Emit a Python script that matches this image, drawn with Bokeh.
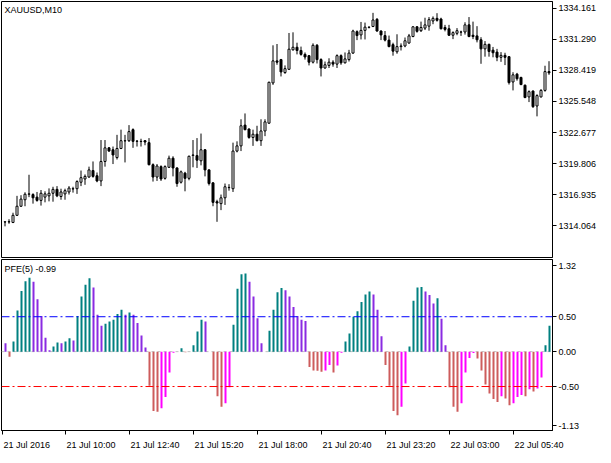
from bokeh.plotting import figure
from bokeh.models import Range1d, FixedTicker, PrintfTickFormatter, Span, Label, ColumnDataSource
from bokeh.transform import dodge
from bokeh.layouts import column
from bokeh.embed import file_html
from bokeh.resources import INLINE

# ---- candles (XAUUSD, M10) ----
opens = [1314.40, 1314.41, 1314.36, 1315.02, 1315.86, 1316.46, 1316.97, 1316.94, 1316.70, 1316.40,
         1316.70, 1316.82, 1317.06, 1317.42, 1316.76, 1317.00, 1317.18, 1317.46, 1317.48, 1318.08,
         1318.38, 1318.56, 1319.16, 1318.68, 1318.20, 1320.00, 1321.26, 1321.08, 1320.36, 1321.20,
         1321.90, 1321.92, 1322.94, 1321.88, 1321.84, 1321.92, 1321.74, 1319.70, 1318.56, 1319.52,
         1318.44, 1319.46, 1320.30, 1319.40, 1318.08, 1318.92, 1318.44, 1320.56, 1320.54, 1320.06,
         1321.08, 1319.22, 1318.02, 1316.28, 1316.10, 1316.64, 1317.58, 1317.48, 1320.96, 1321.44,
         1323.36, 1323.00, 1322.22, 1322.52, 1321.92, 1322.82, 1323.54, 1327.26, 1329.30, 1329.42,
         1328.22, 1328.52, 1330.32, 1330.56, 1330.26, 1329.90, 1329.78, 1329.18, 1330.74, 1329.42,
         1328.64, 1328.88, 1329.18, 1329.00, 1329.78, 1329.12, 1329.42, 1330.02, 1332.00, 1331.70,
         1332.12, 1332.40, 1332.48, 1333.14, 1332.06, 1331.64, 1331.22, 1330.80, 1330.14, 1330.62,
         1330.68, 1330.95, 1331.55, 1332.45, 1332.09, 1332.33, 1332.51, 1332.99, 1333.23, 1333.17,
         1332.39, 1332.27, 1331.67, 1331.85, 1331.96, 1331.97, 1332.63, 1331.67, 1331.61, 1331.25,
         1330.41, 1330.83, 1330.29, 1330.11, 1329.63, 1329.81, 1329.69, 1327.35, 1328.07, 1327.77,
         1327.05, 1325.97, 1326.51, 1325.13, 1325.97, 1326.57, 1328.31]
highs = [1314.43, 1314.66, 1315.26, 1316.82, 1316.88, 1317.15, 1318.77, 1317.06, 1317.18, 1317.36,
         1317.24, 1317.51, 1317.66, 1317.72, 1317.48, 1317.48, 1317.72, 1317.66, 1318.26, 1319.16,
         1318.80, 1319.52, 1320.00, 1318.98, 1321.98, 1321.98, 1321.32, 1321.38, 1322.46, 1322.94,
         1322.46, 1323.36, 1323.06, 1321.98, 1322.10, 1321.98, 1322.16, 1319.82, 1319.76, 1319.64,
         1319.64, 1320.54, 1320.48, 1319.46, 1319.16, 1319.04, 1320.54, 1321.98, 1322.16, 1322.58,
         1321.14, 1319.28, 1318.08, 1316.46, 1316.94, 1317.96, 1317.90, 1321.74, 1321.86, 1323.90,
         1324.44, 1323.06, 1322.94, 1323.30, 1323.90, 1323.90, 1327.38, 1330.74, 1330.86, 1329.48,
         1328.88, 1331.88, 1331.94, 1330.98, 1330.62, 1330.08, 1329.84, 1330.92, 1330.86, 1329.54,
         1329.24, 1329.54, 1329.36, 1329.90, 1329.90, 1330.08, 1330.32, 1332.18, 1332.12, 1332.90,
         1332.84, 1332.48, 1333.74, 1333.26, 1332.12, 1332.06, 1331.64, 1330.98, 1331.76, 1330.92,
         1331.46, 1331.79, 1332.51, 1332.51, 1332.93, 1333.29, 1333.35, 1333.41, 1333.71, 1333.29,
         1332.63, 1332.63, 1332.03, 1332.33, 1332.09, 1332.87, 1333.35, 1332.93, 1332.51, 1331.49,
         1331.13, 1330.89, 1330.59, 1330.41, 1330.11, 1330.05, 1329.75, 1328.25, 1328.19, 1327.83,
         1327.11, 1326.57, 1326.57, 1326.21, 1326.69, 1328.85, 1329.27]
lows = [1314.00, 1314.24, 1314.30, 1314.96, 1315.80, 1315.86, 1316.70, 1316.10, 1316.28, 1315.92,
        1316.22, 1316.31, 1316.28, 1316.70, 1316.46, 1316.46, 1316.94, 1317.12, 1317.00, 1317.72,
        1317.84, 1318.50, 1318.50, 1318.08, 1317.72, 1319.52, 1320.90, 1319.76, 1320.18, 1321.14,
        1319.91, 1321.80, 1321.26, 1321.38, 1321.38, 1321.50, 1319.64, 1318.14, 1318.20, 1318.20,
        1318.32, 1319.40, 1318.62, 1317.66, 1317.96, 1317.24, 1318.26, 1319.46, 1319.40, 1319.64,
        1318.62, 1317.78, 1315.86, 1314.42, 1315.50, 1315.98, 1317.30, 1317.18, 1320.84, 1320.96,
        1322.88, 1322.10, 1321.44, 1321.86, 1321.44, 1322.34, 1323.48, 1327.08, 1328.94, 1327.86,
        1328.10, 1328.46, 1330.26, 1329.90, 1329.78, 1329.42, 1328.88, 1329.06, 1329.06, 1327.86,
        1328.58, 1328.64, 1328.76, 1328.64, 1328.94, 1329.06, 1329.24, 1329.96, 1331.22, 1331.28,
        1331.28, 1332.30, 1332.42, 1332.00, 1331.22, 1331.10, 1330.56, 1329.78, 1329.96, 1330.26,
        1330.56, 1330.89, 1331.49, 1331.91, 1331.97, 1332.15, 1332.09, 1332.69, 1332.93, 1332.21,
        1332.03, 1331.61, 1331.31, 1331.67, 1331.61, 1331.73, 1331.49, 1331.31, 1331.01, 1329.03,
        1329.69, 1329.69, 1329.63, 1329.27, 1329.21, 1328.91, 1327.11, 1326.57, 1327.47, 1327.05,
        1325.85, 1325.49, 1324.95, 1324.17, 1325.91, 1326.45, 1328.01]
closes = [1314.42, 1314.43, 1315.02, 1315.86, 1316.52, 1316.97, 1317.00, 1316.64, 1316.40, 1317.06,
          1317.00, 1317.06, 1317.42, 1316.82, 1317.18, 1317.30, 1317.54, 1317.48, 1318.14, 1318.50,
          1318.62, 1319.22, 1318.62, 1318.20, 1320.00, 1321.26, 1320.96, 1320.60, 1321.20, 1321.92,
          1321.92, 1322.76, 1321.86, 1321.86, 1321.86, 1321.80, 1319.70, 1318.56, 1319.58, 1318.38,
          1319.52, 1320.30, 1319.40, 1317.96, 1319.04, 1318.44, 1320.48, 1320.60, 1320.12, 1321.08,
          1319.22, 1317.96, 1316.22, 1316.16, 1316.64, 1317.66, 1317.60, 1320.96, 1321.44, 1323.30,
          1322.94, 1322.22, 1322.52, 1321.92, 1322.82, 1323.66, 1327.32, 1329.30, 1329.18, 1328.28,
          1328.58, 1330.38, 1330.56, 1330.26, 1329.90, 1329.66, 1329.18, 1330.74, 1329.42, 1328.64,
          1328.94, 1329.18, 1329.00, 1329.78, 1329.12, 1329.48, 1330.02, 1332.06, 1331.64, 1332.12,
          1332.42, 1332.42, 1333.08, 1332.06, 1331.70, 1331.22, 1330.62, 1330.20, 1330.62, 1330.68,
          1331.16, 1331.61, 1332.45, 1332.03, 1332.39, 1332.63, 1333.11, 1333.23, 1333.05, 1332.27,
          1332.21, 1331.67, 1331.91, 1332.09, 1331.97, 1332.63, 1331.55, 1331.55, 1331.25, 1330.41,
          1330.83, 1330.17, 1330.05, 1329.63, 1329.81, 1329.63, 1327.29, 1328.01, 1327.65, 1327.11,
          1325.91, 1326.45, 1325.07, 1326.09, 1326.57, 1328.31, 1328.19]

# ---- PFE(5) histogram ----
pfe = [0.12, -0.075, 0.145, 0.59, 0.87, 1.01, 1.06, 1.00, 0.75, 0.51,
       0.20, 0.02, 0.075, 0.13, 0.12, 0.145, 0.19, 0.16, 0.51, 0.79,
       0.96, 1.05, 0.92, 0.53, 0.37, 0.40, 0.43, 0.455, 0.54, 0.60,
       0.53, 0.56, 0.53, 0.41, 0.23, 0.06, -0.49, -0.85, -0.86, -0.81,
       -0.65, -0.30, -0.015, 0.0, 0.047, -0.01, 0.0, 0.09, 0.29, 0.455,
       0.43, 0.0, -0.41, -0.64, -0.79, -0.74, -0.51, 0.385, 0.90, 1.11,
       1.12, 1.00, 0.79, 0.48, 0.12, 0.0, 0.30, 0.60, 0.85, 0.91,
       0.88, 0.79, 0.64, 0.51, 0.455, 0.44, -0.22, -0.27, -0.275, -0.29,
       -0.27, -0.19, -0.30, -0.20, -0.015, 0.145, 0.26, 0.50, 0.58, 0.71,
       0.82, 0.86, 0.82, 0.60, 0.22, -0.19, -0.49, -0.85, -0.91, -0.79,
       -0.455, 0.075, 0.73, 0.92, 0.925, 0.86, 0.81, 0.69, 0.765, 0.47,
       0.09, -0.51, -0.79, -0.86, -0.74, -0.30, -0.09, -0.02, -0.10, -0.27,
       -0.47, -0.60, -0.68, -0.72, -0.64, -0.67, -0.77, -0.74, -0.65, -0.62,
       -0.64, -0.54, -0.57, -0.53, -0.37, 0.09, 0.37]
pfe_before_first = 0.20   # bar hidden behind the left frame

price_ticks = [1314.064, 1316.935, 1319.806, 1322.677, 1325.548, 1328.419, 1331.290, 1334.161]
time_tick_pos = [-0.75, 15, 31, 47, 63, 79, 95, 111, 127]
time_tick_labels = ["21 Jul 2016", "21 Jul 10:00", "21 Jul 12:40", "21 Jul 15:20", "21 Jul 18:00",
                    "21 Jul 20:40", "21 Jul 23:20", "22 Jul 03:00", "22 Jul 05:40"]
pfe_level_ticks = [0.5, 0.0, -0.5]
pfe_min, pfe_max = -1.13, 1.32

FONT = "Liberation Sans"
FSPX = 9
FS = f"{FSPX}px"
n = len(closes)
idx = list(range(n))
XR = (-0.875, 136.875)      # 137.75 bar slots over 551 px -> 4 px per bar
FW = 551
PX_PER_BAR = FW / (XR[1] - XR[0])

# histogram colours: rising / falling above and below zero
cols = []
prev = pfe_before_first
for v in pfe:
    if v >= 0:
        cols.append("#008080" if v >= prev else "#8A2BE2")
    else:
        cols.append("#CD5C5C" if v <= prev else "#FF00FF")
    prev = v

# ---------- top panel ----------
p1 = figure(frame_width=FW, frame_height=256, x_range=Range1d(*XR), y_range=Range1d(1311.12, 1334.79),
            y_axis_location="right", output_backend="svg", toolbar_location=None,
            min_border_left=1, min_border_top=1, min_border_bottom=1, min_border_right=0,
            background_fill_color="white", border_fill_color="white")
p1.xaxis.visible = False
p1.grid.visible = False
p1.outline_line_color = "black"
p1.outline_line_alpha = 1.0


def style_y(a):
    a.major_tick_out = 4
    a.major_tick_in = 0
    a.minor_tick_out = 0
    a.minor_tick_in = 0
    a.major_label_standoff = 2
    a.major_label_text_font = FONT
    a.major_label_text_font_size = FS
    a.major_label_text_color = "black"
    a.axis_line_color = "black"


ax = p1.yaxis[0]
ax.ticker = FixedTicker(ticks=price_ticks)
ax.formatter = PrintfTickFormatter(format="%.3f")
style_y(ax)

cdf = ColumnDataSource(dict(x=idx, lo=lows, hi=highs,
                            bot=[min(o, c) for o, c in zip(opens, closes)],
                            top=[max(o, c) for o, c in zip(opens, closes)],
                            fill=["white" if c >= o else "black" for o, c in zip(opens, closes)]))
p1.segment(x0="x", y0="lo", x1="x", y1="hi", source=cdf, line_color="black", line_width=1)
p1.vbar(x="x", bottom="bot", top="top", width=0.5, fill_color="fill", source=cdf,
        line_color="black", line_width=1)

p1.add_layout(Label(x=XR[0], y=1334.79, x_offset=3, y_offset=-3, text="XAUUSD,M10",
                    text_font=FONT, text_font_size=FS, text_baseline="top", text_align="left",
                    text_color="black"))

# ---------- bottom panel ----------
p2 = figure(frame_width=FW, frame_height=171, x_range=p1.x_range, y_range=Range1d(pfe_min, pfe_max),
            y_axis_location="right", output_backend="svg", toolbar_location=None,
            min_border_left=1, min_border_top=1, min_border_bottom=0, min_border_right=0,
            background_fill_color="white", border_fill_color="white")
p2.grid.visible = False
p2.outline_line_color = "black"
p2.outline_line_alpha = 1.0

# scale extremes are labelled just inside the frame, as the terminal does
span = pfe_max - pfe_min
top_tick = pfe_max - 6.0 / 171 * span
bot_tick = pfe_min + 5.0 / 171 * span
ay = p2.yaxis[0]
ay.ticker = FixedTicker(ticks=[top_tick] + pfe_level_ticks + [bot_tick])
ay.formatter = PrintfTickFormatter(format="%.2f")
ay.major_label_overrides = {top_tick: f"{pfe_max:.2f}", bot_tick: f"{pfe_min:.2f}"}
style_y(ay)

# time axis: tick marks (as minor ticks) at the bar times, labels start at each tick
CW = {"0": .556, "1": .556, "2": .556, "3": .556, "4": .556, "5": .556, "6": .556, "7": .556,
      "8": .556, "9": .556, " ": .278, ":": .278, "J": .5, "u": .556, "l": .222}


def text_w(s):
    return sum(CW.get(ch, .556) for ch in s) * FSPX


label_pos = [p + (text_w(s) / 2 + 1.5) / PX_PER_BAR for p, s in zip(time_tick_pos, time_tick_labels)]
axx = p2.xaxis[0]
axx.ticker = FixedTicker(ticks=label_pos, minor_ticks=time_tick_pos)
axx.major_label_overrides = {lp: s for lp, s in zip(label_pos, time_tick_labels)}
axx.major_tick_out = 0
axx.major_tick_in = 0
axx.minor_tick_out = 4
axx.minor_tick_in = 0
axx.minor_tick_line_color = "black"
axx.major_label_standoff = 5
axx.major_label_text_font = FONT
axx.major_label_text_font_size = FS
axx.major_label_text_color = "black"
axx.axis_line_color = "black"

p2.add_layout(Span(location=0.0, dimension="width", line_color="#C0C0C0", line_dash="3 3",
                   line_width=1, level="underlay"))
hsrc = ColumnDataSource(dict(x=idx, v=pfe, c=cols))
p2.vbar(x=dodge("x", 0.5 / PX_PER_BAR, range=p2.x_range), bottom=0, top="v", width=0.5,
        fill_color="c", line_color=None, source=hsrc)
p2.add_layout(Span(location=0.5, dimension="width", line_color="#0000FF", line_dash="8 3 2 3", line_width=1))
p2.add_layout(Span(location=-0.5, dimension="width", line_color="#FF0000", line_dash="8 3 2 3", line_width=1))

p2.add_layout(Label(x=XR[0], y=pfe_max, x_offset=3, y_offset=-4, text="PFE(5) -0.99",
                    text_font=FONT, text_font_size=FS, text_baseline="top", text_align="left",
                    text_color="black"))

layout = column(p1, p2, spacing=0)
open("out.html", "w").write(file_html(layout, INLINE))
